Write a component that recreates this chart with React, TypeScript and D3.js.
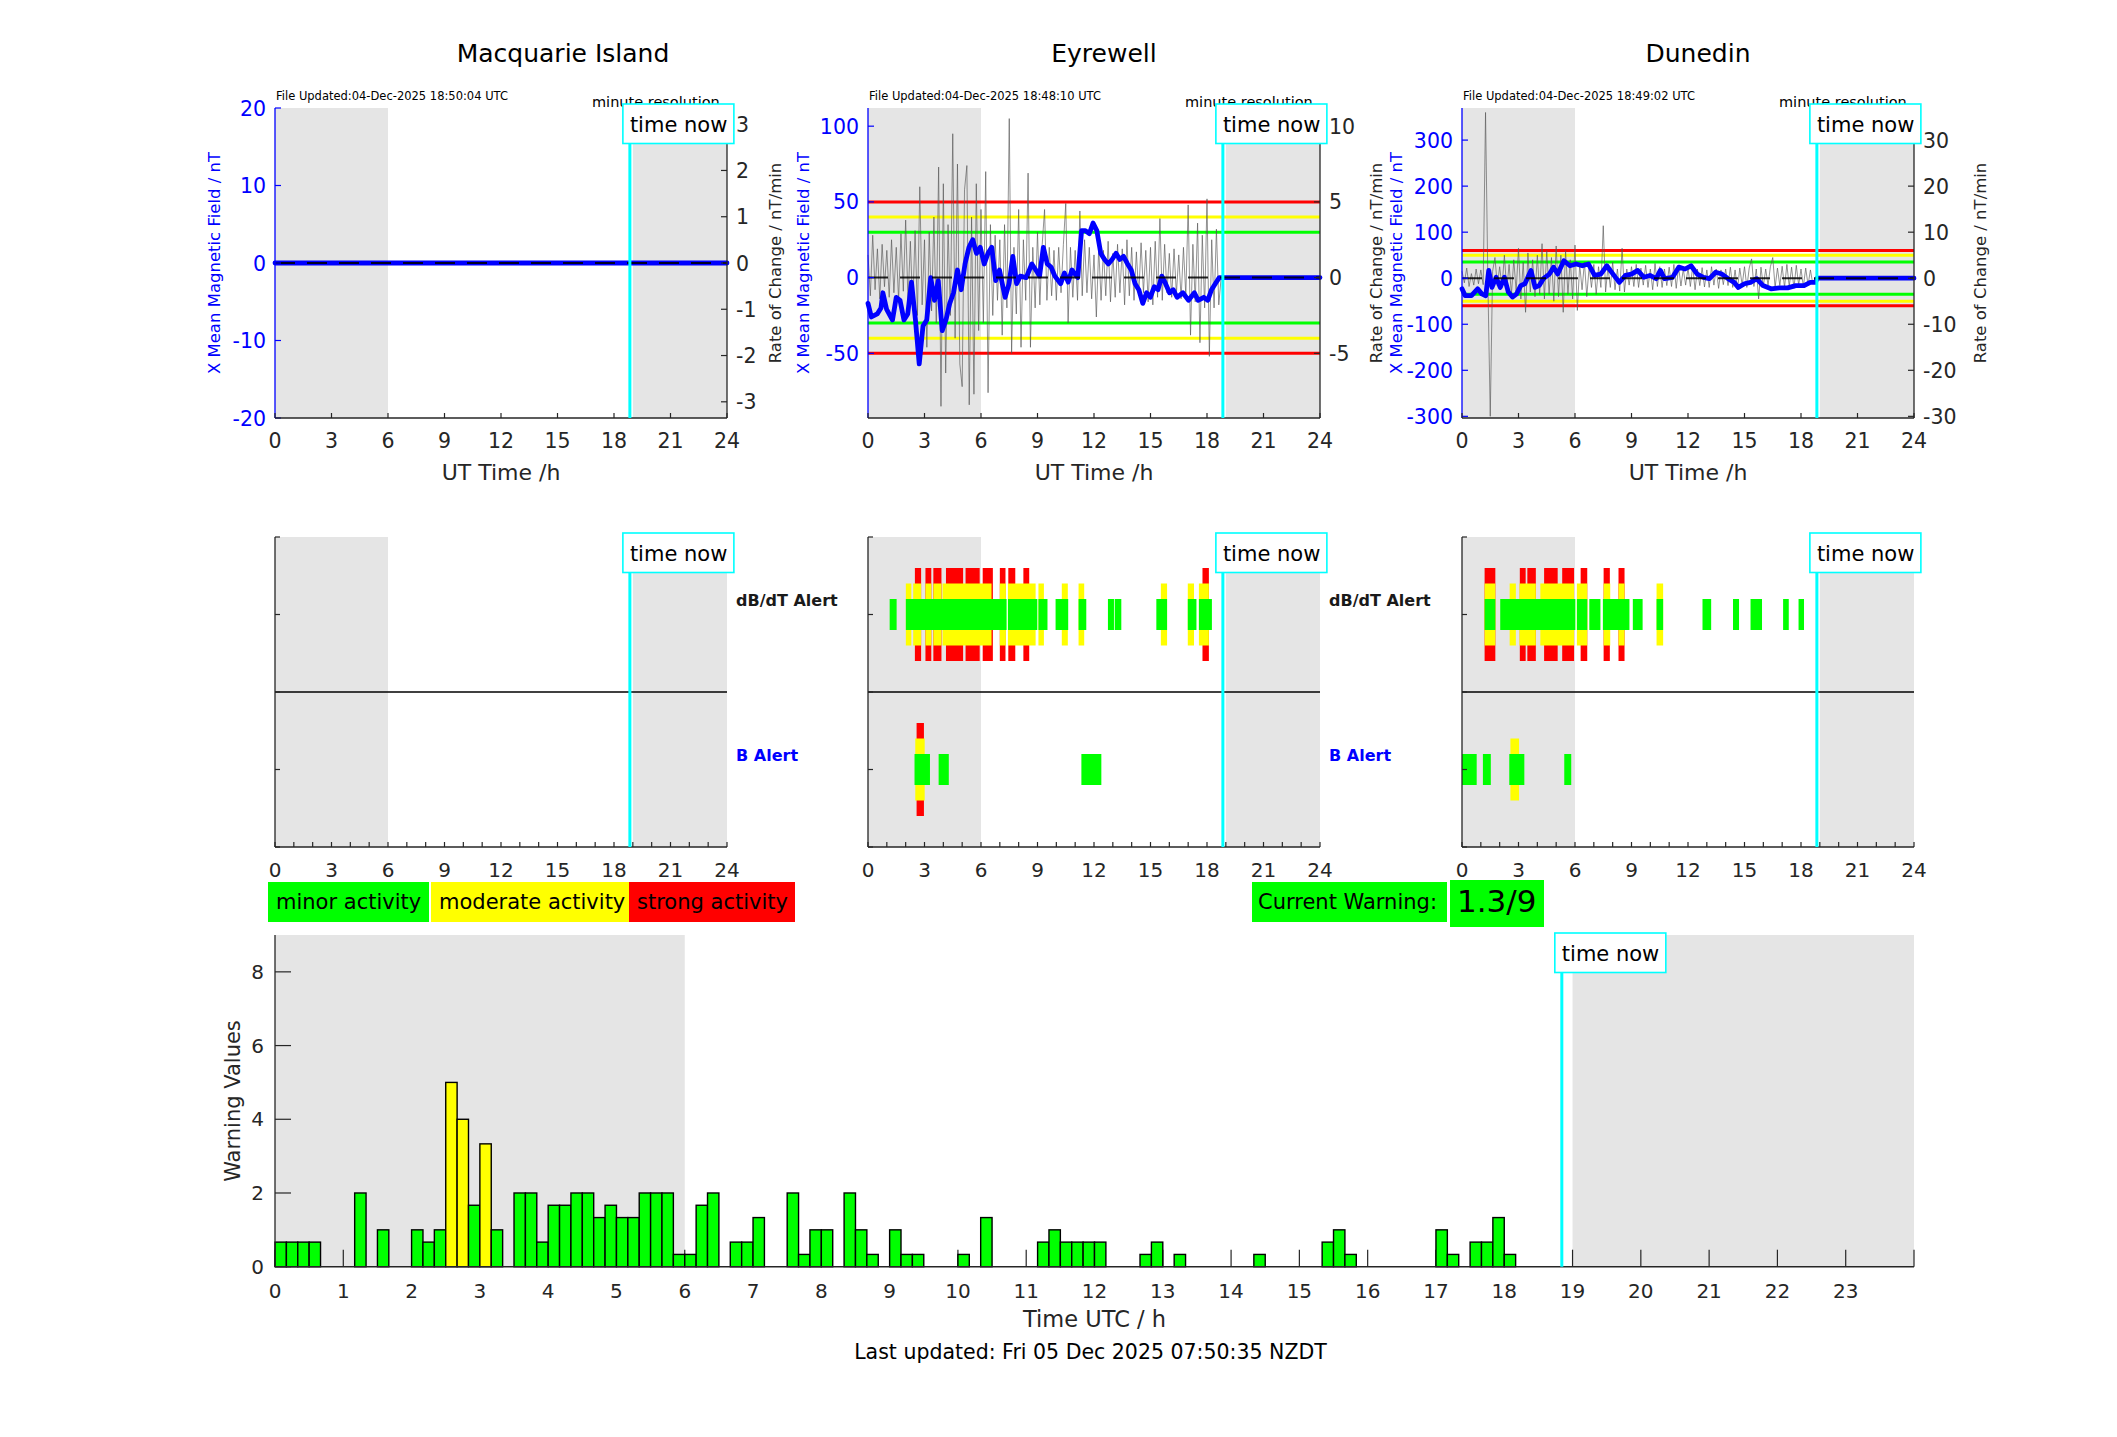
import React from 'react';
import * as d3 from 'd3';

const FONT = 'DejaVu Sans, Verdana, sans-serif';
const GREEN = '#00ff00', YELLOW = '#ffff00', RED = '#ff0000', CYAN = '#00ffff', SHADE = '#e5e5e5', BLUE = '#0000ff', INK = '#262626';

// ---------- data ----------
const stations = ['Macquarie Island', 'Eyrewell', 'Dunedin'];
const fileUpdated = [
  'File Updated:04-Dec-2025 18:50:04 UTC',
  'File Updated:04-Dec-2025 18:48:10 UTC',
  'File Updated:04-Dec-2025 18:49:02 UTC',
];
const TIME_NOW = 18.843;
const nightShade: [number, number][] = [[0, 6], [19, 24]];

const leftTicks = [[-20, -10, 0, 10, 20], [-50, 0, 50, 100], [-300, -200, -100, 0, 100, 200, 300]];
const rightTicks = [[-3, -2, -1, 0, 1, 2, 3], [-5, 0, 5, 10], [-30, -20, -10, 0, 10, 20, 30]];
const leftDomains: [number, number][] = [[-20, 20], [-92.7, 112], [-303.6, 369.7]];
const rightDomains: [number, number][] = [[-3.35, 3.35], [-9.27, 11.2], [-30.36, 36.97]];
// alert thresholds on the rate-of-change axis (minor, moderate, strong)
const thresholds: number[][] = [[], [3, 4, 5], [3.5, 5, 6]];

// X mean magnetic field (hour, nT)
const macquarieX: [number, number][] = [[0, 0], [24, 0]];
const eyrewellX: [number, number][] = [
  [0, -17], [0.18, -26], [0.49, -24], [0.69, -20], [0.79, -10], [0.99, -21], [1.3, -28], [1.5, -13], [1.7, -15],
  [1.91, -28], [2.11, -24], [2.31, -3], [2.52, -28], [2.72, -57], [2.92, -32], [3.12, -28], [3.33, 0], [3.53, -15],
  [3.73, -2], [3.94, -35], [4.14, -28], [4.34, -17], [4.54, -10], [4.75, 5], [4.95, -8], [5.15, 9], [5.36, 20],
  [5.56, 25], [5.76, 16], [5.96, 20], [6.17, 9], [6.37, 16], [6.57, 20], [6.78, -2], [6.98, 5], [7.28, -13],
  [7.49, -4], [7.69, 14], [7.89, -4], [8.09, 1], [8.4, 0], [8.7, 9], [8.91, 5], [9.11, 1], [9.31, 20], [9.52, 9],
  [9.72, 7], [9.92, 1], [10.23, -4], [10.43, 3], [10.63, -3], [10.83, 5], [11.14, 0], [11.34, 31], [11.54, 31],
  [11.75, 29], [11.95, 36], [12.15, 31], [12.36, 16], [12.56, 12], [12.76, 9], [12.96, 12], [13.17, 16], [13.37, 12],
  [13.57, 14], [13.78, 9], [13.98, 5], [14.18, -4], [14.38, -8], [14.59, -17], [14.79, -10], [14.99, -13], [15.2, -6],
  [15.4, -8], [15.6, 1], [15.8, -4], [16.01, -10], [16.21, -8], [16.41, -13], [16.72, -10], [17.02, -15], [17.33, -10],
  [17.53, -15], [17.83, -13], [18.04, -15], [18.24, -8], [18.44, -4], [18.65, 0], [18.84, 0], [24, 0],
];
const dunedinX: [number, number][] = [
  [0, -23], [0.17, -38], [0.5, -38], [0.83, -23], [1.05, -34], [1.26, -38], [1.42, 17], [1.59, -20], [1.81, 2],
  [2.03, -20], [2.25, 2], [2.46, -30], [2.68, -41], [2.9, -34], [3.12, -16], [3.34, -12], [3.66, 17], [3.88, -20],
  [4.1, -16], [4.32, -1], [4.64, 9], [4.86, 24], [5.08, 9], [5.41, 38], [5.73, 27], [6.06, 31], [6.39, 27], [6.71, 31],
  [7.04, 6], [7.37, 9], [7.69, 27], [8.02, 9], [8.35, -9], [8.68, 6], [9.0, 9], [9.33, 17], [9.66, 2], [9.98, 6],
  [10.31, -1], [10.53, 17], [10.75, -1], [11.18, 2], [11.51, 24], [11.84, 20], [12.16, 27], [12.49, 9], [12.82, 2],
  [13.14, -1], [13.47, 13], [13.8, 9], [14.13, -1], [14.45, -9], [14.67, -20], [15.0, -12], [15.32, -9], [15.65, -1],
  [15.98, -16], [16.41, -23], [16.85, -21], [17.29, -21], [17.72, -16], [18.16, -16], [18.49, -9], [18.77, -9],
  [18.85, 0], [24, 0],
];

// Rate of change (nT/min), sampled every 7.5 minutes from 00:00 UT
const RATE_STEP_H = 0.125;
const eyrewellRate = [
  1.5, -1.2, 2.8, -0.8, 1.9, -1.4, 2.2, -0.6,
  1.8, -1.3, 2.5, -1.0, 2.0, -1.5, 2.9, -0.9,
  3.8, -1.6, 2.4, -2.0, 3.1, -2.5, 6.0, -1.8,
  2.5, -4.6, 3.0, -2.2, 4.0, -3.0, 7.3, -8.5,
  6.2, -6.3, 3.5, -2.5, 9.5, -4.0, 7.5, -5.7,
  -7.2, 5.8, 7.4, -8.4, 4.0, -7.7, 6.2, -3.5,
  4.5, -3.0, 7.0, -7.6, 3.5, -2.5, 2.8, -1.5,
  2.5, -3.8, 3.5, -2.0, 10.5, -5.0, 2.0, -2.4,
  4.5, -4.6, 2.5, -1.5, 6.9, -4.6, 2.0, -2.0,
  3.0, -1.8, 2.2, 4.5, -1.5, 2.0, -1.2, 1.8,
  -1.5, 2.0, -1.0, 2.2, 4.9, -3.0, 2.0, -1.3,
  1.8, -1.5, 4.4, -1.2, 2.5, -1.0, 2.0, -1.4,
  1.5, -2.6, 2.0, -1.5, 1.8, -1.2, 2.4, -1.6,
  1.6, -1.3, 2.2, -1.0, 1.9, -1.8, 2.5, -1.2,
  2.0, -1.5, 1.7, -1.2, 2.3, -1.0, 1.8, -1.6,
  2.0, -1.8, 2.4, -1.3, 3.9, -1.5, 2.2, -1.0,
  1.6, -1.3, 1.9, -1.1, 1.5, -1.4, 2.0, -1.2,
  4.8, -3.8, 2.2, -1.6, 3.6, -4.3, 2.8, -2.0,
  5.2, -5.2, 2.5, -2.0, 3.2, -1.8, 0.0,
];
const dunedinRate = [
  1.5, -1.0, 2.2, -1.8, 1.0, -1.5, 2.0, -1.2,
  1.8, -1.4, 36.0, -1.0, -30.0, 1.5, 4.5, -1.6,
  2.5, -2.0, 5.0, -2.5, 3.0, -3.5, 4.0, -2.8,
  6.5, -4.5, 3.5, -7.4, 5.5, -3.0, 4.0, -4.0,
  5.0, -3.5, 7.5, -4.5, 6.0, -3.5, 4.5, -5.0,
  7.0, -4.0, 5.0, -7.4, 6.0, -3.5, 4.0, -4.5,
  7.2, -7.0, 3.0, -2.5, 3.5, -4.0, 2.5, -2.0,
  3.0, -3.5, 2.5, -2.0, 11.4, -3.0, 2.5, -2.0,
  3.5, -2.5, 2.0, -2.8, 6.5, -3.0, 2.0, -1.5,
  2.5, -1.8, 3.0, -2.0, 2.2, -1.5, 2.8, -2.0,
  2.0, -2.5, 3.2, -1.8, 2.5, -2.0, 2.0, -1.6,
  2.4, -1.8, 3.0, -2.2, 2.5, -1.7, 2.0, -1.5,
  2.2, -1.8, 2.6, -2.5, 2.0, -1.6, 2.3, -1.9,
  1.8, -2.0, 2.5, -1.5, 2.0, -2.2, 1.8, -1.4,
  2.0, -1.6, 2.4, -2.0, 1.8, -2.5, 2.2, -1.5,
  2.5, -2.0, 2.2, 4.2, -1.8, 2.0, -4.5, 2.4,
  -1.8, 2.0, -1.5, 2.5, 4.5, -2.0, 2.2, -1.6,
  2.6, -2.0, 3.0, -1.8, 2.4, -2.2, 2.8, -1.5,
  2.0, -1.8, 2.2, -1.5, 1.8, -1.2, 0.0,
];
const blueSeries = [macquarieX, eyrewellX, dunedinX];
const rateSeries: number[][] = [[], eyrewellRate, dunedinRate];

// Alert intervals (start hour, end hour)
type Iv = [number, number];
const eyDbdtGreen: Iv[] = [[1.15, 1.52], [2.01, 7.36], [7.43, 8.99], [9.05, 9.53], [9.96, 10.63], [11.18, 11.59], [12.74, 13.06], [13.1, 13.45], [15.31, 15.88], [16.98, 17.44], [17.57, 18.26]];
const eyDbdtYellow: Iv[] = [[2.01, 2.3], [2.4, 2.82], [3.05, 3.36], [3.47, 3.9], [3.96, 6.56], [7.0, 7.32], [7.43, 8.9], [9.05, 9.34], [10.29, 10.61], [11.18, 11.48], [15.55, 15.88], [16.98, 17.31], [17.57, 18.1]];
const eyDbdtRed: Iv[] = [[2.49, 2.82], [3.05, 3.36], [3.47, 3.9], [4.14, 5.05], [5.18, 5.93], [6.09, 6.63], [7.0, 7.3], [7.45, 7.82], [8.25, 8.56], [17.76, 18.1]];
const eyBGreen: Iv[] = [[2.47, 3.29], [3.75, 4.29], [11.33, 12.39]];
const eyBYellow: Iv[] = [[2.51, 3.01]];
const eyBRed: Iv[] = [[2.58, 2.97]];
const duDbdtGreen: Iv[] = [[1.2, 1.77], [2.03, 6.02], [6.1, 6.65], [6.76, 7.35], [7.48, 8.89], [9.07, 9.59], [10.33, 10.68], [12.77, 13.23], [14.39, 14.71], [15.32, 15.93], [17.05, 17.35], [17.87, 18.16]];
const duDbdtYellow: Iv[] = [[1.2, 1.77], [2.53, 2.86], [3.05, 3.92], [4.16, 5.95], [6.1, 6.65], [7.52, 7.87], [8.31, 8.63], [10.33, 10.68]];
const duDbdtRed: Iv[] = [[1.2, 1.77], [3.07, 3.38], [3.47, 3.92], [4.36, 5.08], [5.32, 5.95], [6.3, 6.65], [7.52, 7.85], [8.31, 8.63]];
const duBGreen: Iv[] = [[0, 0.78], [1.11, 1.53], [2.51, 3.31], [5.43, 5.8]];
const duBYellow: Iv[] = [[2.57, 3.03]];
const duBRed: Iv[] = [];
const alerts = [
  { dbdt: [[], [], []] as Iv[][], b: [[], [], []] as Iv[][] },
  { dbdt: [eyDbdtGreen, eyDbdtYellow, eyDbdtRed], b: [eyBGreen, eyBYellow, eyBRed] },
  { dbdt: [duDbdtGreen, duDbdtYellow, duDbdtRed], b: [duBGreen, duBYellow, duBRed] },
];

// Warning values per 10-minute slot
const warnSlots = [0, 1, 2, 3, 7, 9, 12, 13, 14, 15, 16, 17, 18, 19, 21, 22, 23, 24, 25, 26, 27, 28, 29, 30, 31, 32, 33, 34, 35, 36, 37, 38, 40, 41, 42, 45, 46, 47, 48, 50, 51, 52, 54, 55, 56, 60, 62, 67, 68, 69, 70, 71, 72, 76, 77, 79, 86, 92, 93, 94, 102, 103, 105, 106, 107, 108];
const warnValues = [0.667, 0.667, 0.667, 0.667, 2, 1, 1, 0.667, 1, 5, 4, 1.667, 3.333, 1, 2, 2, 0.667, 1.667, 1.667, 2, 2, 1.333, 1.667, 1.333, 1.333, 2, 2, 2, 0.333, 0.333, 1.667, 2, 0.667, 0.667, 1.333, 2, 0.333, 1, 1, 2, 1, 0.333, 1, 0.333, 0.333, 0.333, 1.333, 0.667, 1, 0.667, 0.667, 0.667, 0.667, 0.333, 0.667, 0.333, 0.333, 0.667, 1, 0.333, 1, 0.333, 0.667, 0.667, 1.333, 0.333];
const warnTicks = [0, 2, 4, 6, 8];
const legendItems = [
  { label: 'minor activity', color: GREEN },
  { label: 'moderate activity', color: YELLOW },
  { label: 'strong activity', color: RED },
];
const currentWarning = '1.3/9';

// ---------- layout ----------
const PANEL_W = 452;
const panelLefts = [275, 868, 1462];
const titleX = [563, 1104, 1698];
const leftLabelX = [214, 803, 1396];
const rightLabelX = [775, 1376, 1980];
const TOP = { y0: 108, y1: 418 };
const MID = { y0: 537, y1: 847 };
const BOT = { x0: 275, x1: 1914, y0: 935, y1: 1266.7 };

function TimeNow({ x, top, bottom }: { x: number; top: number; bottom: number }) {
  return (
    <g>
      <line x1={x} x2={x} y1={top + 39} y2={bottom} stroke={CYAN} strokeWidth={3} />
      <rect x={x - 7} y={top} width={111} height={39.5} fill="white" stroke={CYAN} strokeWidth={1.6} />
      <text x={x} y={top + 27.5} fontSize={21} fontFamily={FONT} fill="#000">time now</text>
    </g>
  );
}

function TopPanel({ i }: { i: number }) {
  const left = panelLefts[i];
  const right = left + PANEL_W;
  const x = d3.scaleLinear().domain([0, 24]).range([left, right]);
  const yL = d3.scaleLinear().domain(leftDomains[i]).range([TOP.y1, TOP.y0]);
  const yR = d3.scaleLinear().domain(rightDomains[i]).range([TOP.y1, TOP.y0]);
  const blueLine = d3.line<[number, number]>().x(d => x(d[0])).y(d => yL(d[1]));
  const rate = rateSeries[i];
  const rateLine = d3.line<number>().x((_, k) => x(k * RATE_STEP_H)).y(v => yR(v));
  const thrColors = [GREEN, YELLOW, RED];
  const hours = d3.range(0, 25, 3);
  return (
    <g>
      {nightShade.map(([a, b], k) => (
        <rect key={k} x={x(a)} y={TOP.y0} width={x(b) - x(a)} height={TOP.y1 - TOP.y0} fill={SHADE} />
      ))}
      {thresholds[i].map((t, k) => (
        <g key={k}>
          <line x1={x(0)} x2={x(24)} y1={yR(t)} y2={yR(t)} stroke={thrColors[k]} strokeWidth={3} />
          <line x1={x(0)} x2={x(24)} y1={yR(-t)} y2={yR(-t)} stroke={thrColors[k]} strokeWidth={3} />
        </g>
      ))}
      {rate.length > 0 && <path d={rateLine(rate) || ''} fill="none" stroke="#555" strokeWidth={0.8} strokeOpacity={0.8} />}
      <path d={blueLine(blueSeries[i]) || ''} fill="none" stroke={BLUE} strokeWidth={4.8} strokeLinejoin="round" strokeLinecap="round" />
      <line x1={x(0)} x2={x(24)} y1={yR(0)} y2={yR(0)} stroke="#000" strokeWidth={2} strokeDasharray="20 12" strokeOpacity={0.85} />
      {/* axes */}
      <line x1={left} x2={left} y1={TOP.y0} y2={TOP.y1} stroke={BLUE} strokeWidth={1.3} />
      {leftTicks[i].map(t => (
        <g key={t}>
          <line x1={left} x2={left + 6} y1={yL(t)} y2={yL(t)} stroke={BLUE} strokeWidth={1.2} />
          <text x={left - 9} y={yL(t) + 7.5} textAnchor="end" fontSize={20.5} fontFamily={FONT} fill={BLUE}>{t}</text>
        </g>
      ))}
      <line x1={right} x2={right} y1={TOP.y0} y2={TOP.y1} stroke={INK} strokeWidth={1.3} />
      {rightTicks[i].map(t => (
        <g key={t}>
          <line x1={right - 6} x2={right} y1={yR(t)} y2={yR(t)} stroke={INK} strokeWidth={1.2} />
          <text x={right + 9} y={yR(t) + 7.5} fontSize={20.5} fontFamily={FONT} fill={INK}>{t}</text>
        </g>
      ))}
      <line x1={left} x2={right} y1={TOP.y1} y2={TOP.y1} stroke={INK} strokeWidth={1.3} />
      {hours.map(h => (
        <g key={h}>
          <line x1={x(h)} x2={x(h)} y1={TOP.y1} y2={TOP.y1 - 5} stroke={INK} strokeWidth={1.2} />
          <text x={x(h)} y={TOP.y1 + 30} textAnchor="middle" fontSize={20.5} fontFamily={FONT} fill={INK}>{h}</text>
        </g>
      ))}
      <text x={(left + right) / 2} y={480} textAnchor="middle" fontSize={22} fontFamily={FONT} fill={INK}>UT Time /h</text>
      <text transform={`translate(${leftLabelX[i]},${(TOP.y0 + TOP.y1) / 2}) rotate(-90)`} textAnchor="middle" dominantBaseline="central" fontSize={16.5} fontFamily={FONT} fill={BLUE}>X Mean Magnetic Field / nT</text>
      <text transform={`translate(${rightLabelX[i]},${(TOP.y0 + TOP.y1) / 2}) rotate(-90)`} textAnchor="middle" dominantBaseline="central" fontSize={16.5} fontFamily={FONT} fill={INK}>Rate of Change / nT/min</text>
      <text x={titleX[i]} y={62} textAnchor="middle" fontSize={25} fontFamily={FONT} fill="#000">{stations[i]}</text>
      <text x={left + 1} y={99.5} fontSize={11.5} fontFamily={FONT} fill="#000">{fileUpdated[i]}</text>
      <text x={left + 317} y={107} fontSize={14.5} fontFamily={FONT} fill="#000">minute resolution</text>
      <TimeNow x={x(TIME_NOW)} top={104} bottom={TOP.y1} />
    </g>
  );
}

function MidPanel({ i }: { i: number }) {
  const left = panelLefts[i];
  const right = left + PANEL_W;
  const x = d3.scaleLinear().domain([0, 24]).range([left, right]);
  const y = d3.scaleLinear().domain([0, 4]).range([MID.y1, MID.y0]);
  const halfHeights = [0.2, 0.4, 0.6];
  const colors = [GREEN, YELLOW, RED];
  const rows: { center: number; sets: Iv[][] }[] = [
    { center: 3, sets: alerts[i].dbdt },
    { center: 1, sets: alerts[i].b },
  ];
  return (
    <g>
      {nightShade.map(([a, b], k) => (
        <rect key={k} x={x(a)} y={MID.y0} width={x(b) - x(a)} height={MID.y1 - MID.y0} fill={SHADE} />
      ))}
      {rows.map((row, r) => (
        <g key={r}>
          {[2, 1, 0].map(lvl => row.sets[lvl].map(([a, b], k) => (
            <rect key={`${lvl}-${k}`} x={x(a)} width={x(b) - x(a)} y={y(row.center + halfHeights[lvl])}
              height={y(row.center - halfHeights[lvl]) - y(row.center + halfHeights[lvl])} fill={colors[lvl]} />
          )))}
        </g>
      ))}
      <line x1={left} x2={right} y1={y(2)} y2={y(2)} stroke="#000" strokeWidth={1.5} />
      <line x1={left} x2={left} y1={MID.y0} y2={MID.y1} stroke={INK} strokeWidth={1.3} />
      {[0, 1, 2, 3, 4].map(t => (
        <line key={t} x1={left} x2={left + 5} y1={y(t)} y2={y(t)} stroke={INK} strokeWidth={1.2} />
      ))}
      <line x1={left} x2={right} y1={MID.y1} y2={MID.y1} stroke={INK} strokeWidth={1.3} />
      {d3.range(0, 25).map(h => (
        <line key={h} x1={x(h)} x2={x(h)} y1={MID.y1} y2={MID.y1 - 5} stroke={INK} strokeWidth={1.2} />
      ))}
      {d3.range(0, 25, 3).map(h => (
        <text key={h} x={x(h)} y={MID.y1 + 30} textAnchor="middle" fontSize={20} fontFamily={FONT} fill={INK}>{h}</text>
      ))}
      {i < 2 && (
        <g>
          <text x={right + 9} y={606} fontSize={16} fontWeight="bold" fontFamily={FONT} fill="#1a1a1a">dB/dT Alert</text>
          <text x={right + 9} y={761} fontSize={16} fontWeight="bold" fontFamily={FONT} fill={BLUE}>B Alert</text>
        </g>
      )}
      <TimeNow x={x(TIME_NOW)} top={533} bottom={MID.y1} />
    </g>
  );
}

function BottomChart() {
  const x = d3.scaleLinear().domain([0, 24]).range([BOT.x0, BOT.x1]);
  const y = d3.scaleLinear().domain([0, 9]).range([BOT.y1, BOT.y0]);
  const slotH = 1 / 6;
  const barColor = (v: number) => (v >= 6 ? RED : v >= 3 ? YELLOW : GREEN);
  return (
    <g>
      {nightShade.map(([a, b], k) => (
        <rect key={k} x={x(a)} y={BOT.y0} width={x(b) - x(a)} height={BOT.y1 - BOT.y0} fill={SHADE} />
      ))}
      {d3.range(0, 25).map(h => (
        <line key={h} x1={x(h)} x2={x(h)} y1={BOT.y1} y2={BOT.y1 - 17} stroke={INK} strokeWidth={1.2} />
      ))}
      {warnSlots.map((s, k) => {
        const h0 = s * slotH;
        return (
          <rect key={s} x={x(h0)} width={x(h0 + slotH) - x(h0)} y={y(warnValues[k])} height={y(0) - y(warnValues[k])}
            fill={barColor(warnValues[k])} stroke="#000" strokeWidth={1.4} />
        );
      })}
      <line x1={BOT.x0} x2={BOT.x0} y1={BOT.y0} y2={BOT.y1} stroke={INK} strokeWidth={1.3} />
      <line x1={BOT.x0} x2={BOT.x1} y1={BOT.y1} y2={BOT.y1} stroke={INK} strokeWidth={1.5} />
      {warnTicks.map(t => (
        <g key={t}>
          <line x1={BOT.x0} x2={BOT.x0 + 16} y1={y(t)} y2={y(t)} stroke={INK} strokeWidth={1.2} />
          <text x={BOT.x0 - 11} y={y(t) + 7} textAnchor="end" fontSize={20} fontFamily={FONT} fill={INK}>{t}</text>
        </g>
      ))}
      {d3.range(0, 24).map(h => (
        <text key={h} x={x(h)} y={BOT.y1 + 31} textAnchor="middle" fontSize={20} fontFamily={FONT} fill={INK}>{h}</text>
      ))}
      <text x={(BOT.x0 + BOT.x1) / 2} y={1327} textAnchor="middle" fontSize={22.5} fontFamily={FONT} fill={INK}>Time UTC / h</text>
      <text x={(BOT.x0 + BOT.x1) / 2 - 4} y={1359} textAnchor="middle" fontSize={20.5} fontFamily={FONT} fill="#000">Last updated: Fri 05 Dec 2025 07:50:35 NZDT</text>
      <text transform={`translate(233,1101) rotate(-90)`} textAnchor="middle" dominantBaseline="central" fontSize={21} fontFamily={FONT} fill={INK}>Warning Values</text>
      <TimeNow x={x(TIME_NOW)} top={933} bottom={BOT.y1} />
    </g>
  );
}

function Legend() {
  const boxes = [[268, 429], [431, 629], [629, 795]];
  return (
    <g>
      {legendItems.map((it, k) => (
        <g key={k}>
          <rect x={boxes[k][0]} y={882} width={boxes[k][1] - boxes[k][0]} height={40} fill={it.color} />
          <text x={boxes[k][0] + 8} y={909} fontSize={21} fontFamily={FONT} fill="#000">{it.label}</text>
        </g>
      ))}
      <rect x={1252} y={882} width={195} height={40} fill={GREEN} />
      <text x={1258} y={909} fontSize={21} fontFamily={FONT} fill="#000">Current Warning:</text>
      <rect x={1450} y={880} width={94} height={47} fill={GREEN} />
      <text x={1457} y={912} fontSize={31} fontFamily={FONT} fill="#000">{currentWarning}</text>
    </g>
  );
}

export default function App() {
  return (
    <svg width={2117} height={1437} viewBox="0 0 2117 1437" style={{ position: 'absolute', left: 0, top: 0, background: '#fff' }}>
      <rect width={2117} height={1437} fill="#fff" />
      {[0, 1, 2].map(i => <TopPanel key={`t${i}`} i={i} />)}
      {[0, 1, 2].map(i => <MidPanel key={`m${i}`} i={i} />)}
      <Legend />
      <BottomChart />
    </svg>
  );
}
